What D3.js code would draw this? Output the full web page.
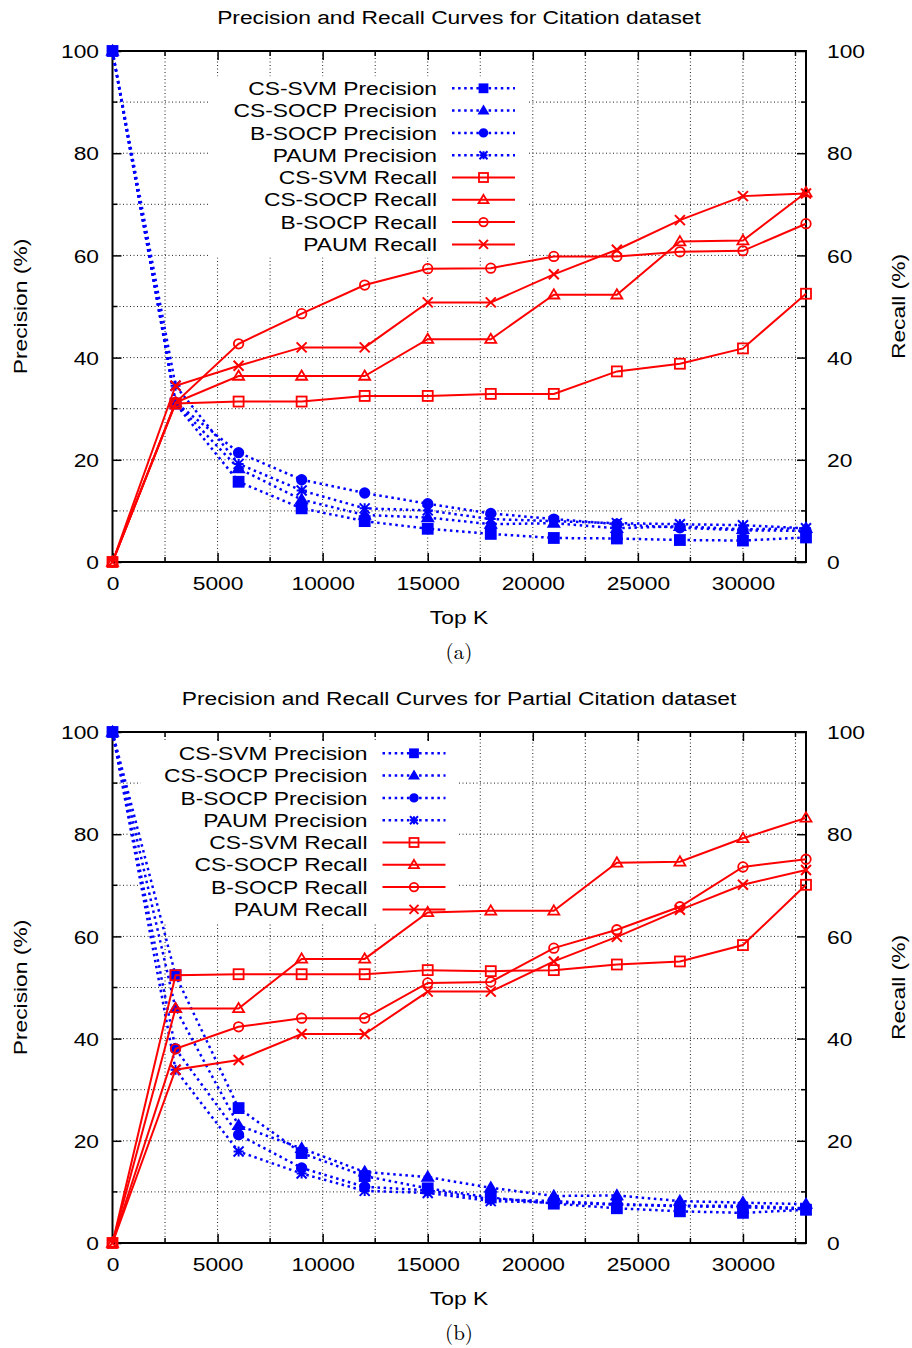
<!DOCTYPE html>
<html>
<head>
<meta charset="utf-8">
<script src="https://cdn.jsdelivr.net/npm/d3@7"></script>
<style>
  body { margin: 0; background: #fff; }
  svg { display: block; font-family: "Liberation Sans", Arial, sans-serif; }
</style>
</head>
<body>
<svg id="chart" width="912" height="1348"></svg>
<script>
// x values (Top K) shared by both plots
const topK = [0, 3000, 6000, 9000, 12000, 15000, 18000, 21000, 24000, 27000, 30000, 33000];
const xTicks = [0, 5000, 10000, 15000, 20000, 25000, 30000];
const yTicks = [0, 20, 40, 60, 80, 100];

const legendNames = ["CS-SVM Precision", "CS-SOCP Precision", "B-SOCP Precision", "PAUM Precision",
                     "CS-SVM Recall", "CS-SOCP Recall", "B-SOCP Recall", "PAUM Recall"];

// (a) Citation dataset
const citSvmPrec   = [100, 31.0, 15.7, 10.5, 8.0, 6.5, 5.5, 4.7, 4.6, 4.3, 4.2, 4.8];
const citSocpPrec  = [100, 31.2, 18.3, 12.2, 9.2, 8.7, 7.4, 7.6, 6.6, 7.0, 6.4, 6.6];
const citBsocpPrec = [100, 31.2, 21.4, 16.1, 13.5, 11.4, 9.5, 8.4, 7.4, 6.7, 6.2, 6.1];
const citPaumPrec  = [100, 34.5, 19.2, 14.0, 10.5, 10.1, 8.4, 8.0, 7.6, 7.4, 7.2, 6.6];
const citSvmRec    = [0, 31.0, 31.4, 31.4, 32.5, 32.5, 32.9, 32.9, 37.3, 38.8, 41.8, 52.5];
const citSocpRec   = [0, 31.2, 36.4, 36.4, 36.4, 43.6, 43.6, 52.3, 52.3, 62.7, 62.9, 72.3];
const citBsocpRec  = [0, 31.2, 42.7, 48.6, 54.2, 57.4, 57.5, 59.8, 59.8, 60.7, 60.9, 66.2];
const citPaumRec   = [0, 34.5, 38.4, 42.0, 42.0, 50.8, 50.8, 56.3, 61.1, 66.9, 71.6, 72.1];

// (b) Partial Citation dataset
const parSvmPrec   = [100, 52.4, 26.4, 17.6, 13.1, 10.7, 8.9, 7.7, 6.8, 6.2, 5.9, 6.5];
const parSocpPrec  = [100, 45.9, 23.0, 18.5, 13.9, 12.9, 10.8, 9.2, 9.3, 8.2, 7.9, 7.6];
const parBsocpPrec = [100, 38.0, 21.2, 14.7, 11.0, 10.3, 8.6, 8.2, 7.6, 7.3, 7.3, 6.8];
const parPaumPrec  = [100, 33.9, 17.9, 13.6, 10.2, 9.8, 8.2, 7.9, 7.5, 7.2, 7.0, 6.6];
const parSvmRec    = [0, 52.4, 52.6, 52.6, 52.6, 53.4, 53.2, 53.4, 54.5, 55.1, 58.3, 70.1];
const parSocpRec   = [0, 45.9, 45.9, 55.6, 55.6, 64.7, 65.0, 65.0, 74.4, 74.6, 79.2, 83.2];
const parBsocpRec  = [0, 38.0, 42.3, 44.0, 44.0, 50.9, 51.1, 57.7, 61.3, 65.8, 73.6, 75.1];
const parPaumRec   = [0, 33.9, 35.8, 40.9, 40.9, 49.2, 49.2, 55.1, 59.9, 65.2, 70.1, 73.0];

const BLUE = "#0000ff", RED = "#ff0000";
const FONT_SIZE = "19px";
const SX = 1.2;  // the original fonts are wider than Liberation Sans
const styles = [
  {color: BLUE, dotted: true, marker: "fsquare"},
  {color: BLUE, dotted: true, marker: "ftriangle"},
  {color: BLUE, dotted: true, marker: "fcircle"},
  {color: BLUE, dotted: true, marker: "star"},
  {color: RED, dotted: false, marker: "square"},
  {color: RED, dotted: false, marker: "triangle"},
  {color: RED, dotted: false, marker: "circle"},
  {color: RED, dotted: false, marker: "cross"}
];

const svg = d3.select("#chart");

// text stretched horizontally around its anchor point
function addText(g, x, y, str, anchor, rot) {
  return g.append("text")
    .attr("transform", `translate(${x},${y})` + (rot ? ` rotate(${rot})` : "") + ` scale(${SX},1)`)
    .attr("text-anchor", anchor || "middle")
    .style("font-size", FONT_SIZE)
    .text(str);
}

// draw one point marker centered at (cx, cy)
function drawMarker(g, type, cx, cy, color, s) {
  const h = s / 2;
  if (type === "fsquare" || type === "square") {
    g.append("rect").attr("x", cx - h).attr("y", cy - h).attr("width", s).attr("height", s)
      .attr("fill", type === "fsquare" ? color : "none").attr("stroke", color).attr("stroke-width", 1.8);
  } else if (type === "ftriangle" || type === "triangle") {
    g.append("path")
      .attr("d", `M${cx},${cy - h * 1.1}L${cx + h * 1.1},${cy + h * 0.75}L${cx - h * 1.1},${cy + h * 0.75}Z`)
      .attr("fill", type === "ftriangle" ? color : "none").attr("stroke", color).attr("stroke-width", 1.8);
  } else if (type === "fcircle" || type === "circle") {
    g.append("circle").attr("cx", cx).attr("cy", cy).attr("r", h * 0.95)
      .attr("fill", type === "fcircle" ? color : "none").attr("stroke", color).attr("stroke-width", 1.8);
  } else if (type === "cross") {
    g.append("path").attr("d", `M${cx - h},${cy - h}L${cx + h},${cy + h}M${cx - h},${cy + h}L${cx + h},${cy - h}`)
      .attr("stroke", color).attr("stroke-width", 2).attr("fill", "none");
  } else if (type === "star") {
    g.append("path").attr("d", `M${cx - h},${cy - h}L${cx + h},${cy + h}M${cx - h},${cy + h}L${cx + h},${cy - h}` +
        `M${cx - h},${cy}L${cx + h},${cy}M${cx},${cy - h}L${cx},${cy + h}`)
      .attr("stroke", color).attr("stroke-width", 2).attr("fill", "none");
  }
}

function drawChart(cfg) {
  const top = cfg.top, bottom = cfg.top + 511;
  const left = 112.5, right = 806;

  const xScale = d3.scaleLinear().domain([0, 33000]).range([left, right]);
  const yScale = d3.scaleLinear().domain([0, 100]).range([bottom, top]);

  const g = svg.append("g");

  // title
  addText(g, 459, top - 27, cfg.title);

  // dotted grid, major and minor
  const grid = g.append("g").attr("stroke", "#222").attr("stroke-width", 1).attr("stroke-dasharray", "1,2.5");
  d3.range(2500, 33000, 2500).forEach(function(v) {
    grid.append("line").attr("x1", xScale(v)).attr("x2", xScale(v)).attr("y1", top).attr("y2", bottom);
  });
  d3.range(10, 100, 10).forEach(function(v) {
    grid.append("line").attr("x1", left).attr("x2", right).attr("y1", yScale(v)).attr("y2", yScale(v));
  });

  // legend box covers the grid
  const lg = cfg.legend;
  g.append("rect").attr("x", lg.textRight - 227).attr("y", lg.top - 12)
    .attr("width", 227 + 91).attr("height", 22.3 * 7 + 25).attr("fill", "#fff");

  // axes with inward ticks
  const fmt = d3.format("d");
  const axisBottom = g.append("g").attr("transform", `translate(0,${bottom})`)
    .call(d3.axisBottom(xScale).tickValues(xTicks).tickFormat(fmt).tickSizeInner(-9).tickSizeOuter(0).tickPadding(15));
  const axisTop = g.append("g").attr("transform", `translate(0,${top})`)
    .call(d3.axisTop(xScale).tickValues(xTicks).tickSizeInner(-9).tickSizeOuter(0).tickFormat(""));
  const axisLeft = g.append("g").attr("transform", `translate(${left},0)`)
    .call(d3.axisLeft(yScale).tickValues(yTicks).tickFormat(fmt).tickSizeInner(-9).tickSizeOuter(0).tickPadding(13.5));
  const axisRight = g.append("g").attr("transform", `translate(${right},0)`)
    .call(d3.axisRight(yScale).tickValues(yTicks).tickFormat(fmt).tickSizeInner(-9).tickSizeOuter(0).tickPadding(21));
  [axisBottom, axisTop, axisLeft, axisRight].forEach(function(a) {
    a.select(".domain").remove();
    a.selectAll("line").attr("stroke", "#000").attr("stroke-width", 1.5);
    a.selectAll("text").attr("fill", "#000").style("font-size", FONT_SIZE)
      .style("font-family", "Liberation Sans, Arial, sans-serif")
      .each(function() {
        const t = d3.select(this);
        const tx = +t.attr("x") || 0, ty = +t.attr("y") || 0;
        t.attr("x", null).attr("y", null).attr("transform", `translate(${tx},${ty}) scale(${SX},1)`);
      });
  });
  axisBottom.selectAll("text").attr("dy", "0.71em");
  axisLeft.selectAll("text").attr("dy", "0.35em");
  axisRight.selectAll("text").attr("dy", "0.35em");

  // minor ticks
  const minor = g.append("g").attr("stroke", "#000").attr("stroke-width", 1.5);
  d3.range(2500, 33000, 5000).forEach(function(v) {
    minor.append("line").attr("x1", xScale(v)).attr("x2", xScale(v)).attr("y1", bottom).attr("y2", bottom - 5);
    minor.append("line").attr("x1", xScale(v)).attr("x2", xScale(v)).attr("y1", top).attr("y2", top + 5);
  });
  d3.range(10, 100, 20).forEach(function(v) {
    minor.append("line").attr("x1", left).attr("x2", left + 5).attr("y1", yScale(v)).attr("y2", yScale(v));
    minor.append("line").attr("x1", right).attr("x2", right - 5).attr("y1", yScale(v)).attr("y2", yScale(v));
  });

  // border
  g.append("rect").attr("x", left).attr("y", top).attr("width", right - left).attr("height", bottom - top)
    .attr("fill", "none").attr("stroke", "#000").attr("stroke-width", 2);

  // axis labels
  addText(g, 459, bottom + 62, "Top K");
  addText(g, 27, (top + bottom) / 2, "Precision (%)", "middle", -90);
  addText(g, 905, (top + bottom) / 2, "Recall (%)", "middle", -90);
  g.append("text").attr("x", 459).attr("y", bottom + 97).attr("text-anchor", "middle")
    .style("font-size", "21px").style("font-family", "Latin Modern Roman, DejaVu Serif, Liberation Serif, serif")
    .text(cfg.caption);

  // data lines and markers
  const line = d3.line().x(function(d) { return xScale(d[0]); }).y(function(d) { return yScale(d[1]); });
  cfg.series.forEach(function(vals, i) {
    const st = styles[i];
    const pts = topK.map(function(k, j) { return [k, vals[j]]; });
    g.append("path").datum(pts).attr("d", line).attr("fill", "none")
      .attr("stroke", st.color).attr("stroke-width", st.dotted ? 2.5 : 2)
      .attr("stroke-dasharray", st.dotted ? "2.5,3.6" : null);
    const mg = g.append("g");
    pts.forEach(function(p) { drawMarker(mg, st.marker, xScale(p[0]), yScale(p[1]), st.color, 10); });
  });

  // legend entries
  legendNames.forEach(function(name, i) {
    const st = styles[i];
    const y = lg.top + i * 22.3;
    addText(g, lg.textRight, y, name, "end").attr("dy", "0.35em");
    const x0 = lg.textRight + 15, x1 = lg.textRight + 78;
    g.append("line").attr("x1", x0).attr("x2", x1).attr("y1", y).attr("y2", y)
      .attr("stroke", st.color).attr("stroke-width", st.dotted ? 2.5 : 2)
      .attr("stroke-dasharray", st.dotted ? "2.5,3.6" : null);
    drawMarker(g, st.marker, (x0 + x1) / 2, y, st.color, st.dotted ? 8 : 9);
  });
}

drawChart({
  top: 51,
  title: "Precision and Recall Curves for Citation dataset",
  caption: "(a)",
  legend: {textRight: 437, top: 88.3},
  series: [citSvmPrec, citSocpPrec, citBsocpPrec, citPaumPrec, citSvmRec, citSocpRec, citBsocpRec, citPaumRec]
});

drawChart({
  top: 732,
  title: "Precision and Recall Curves for Partial Citation dataset",
  caption: "(b)",
  legend: {textRight: 367.5, top: 753.3},
  series: [parSvmPrec, parSocpPrec, parBsocpPrec, parPaumPrec, parSvmRec, parSocpRec, parBsocpRec, parPaumRec]
});
</script>
</body>
</html>
